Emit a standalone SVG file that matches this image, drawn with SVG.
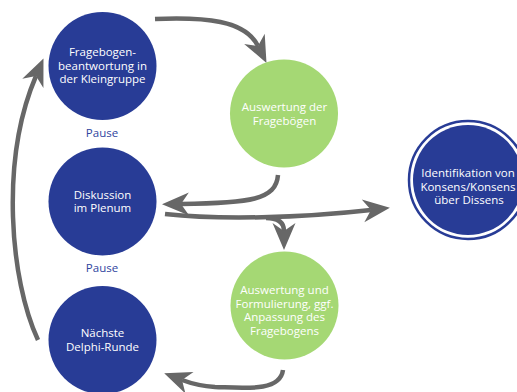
<svg xmlns="http://www.w3.org/2000/svg" width="517" height="392" viewBox="0 0 517 392">
  <style>
    .blue { fill: #283c96; }
    .green { fill: #a5d874; }
    .lbl { font-family: "Open Sans", "Noto Sans", "Liberation Sans", sans-serif; font-size: 11.5px; text-anchor: middle; fill: #ffffff; }
    .pause { font-family: "Open Sans", "Noto Sans", "Liberation Sans", sans-serif; font-size: 11.5px; text-anchor: middle; fill: #2f44a0; }
    .conn { fill: none; stroke: #676767; stroke-width: 4.5; marker-end: url(#head); }
  </style>
  <defs>
    <marker id="head" markerUnits="userSpaceOnUse" viewBox="-2 -13 32 26" markerWidth="32" markerHeight="26" refX="8" refY="0" orient="auto">
      <path d="M0,-11.5 L27,0 L0,11.5 L8,0 Z" fill="#676767"/>
    </marker>
  </defs>
  <rect width="517" height="392" fill="#ffffff"/>

  <g id="connectors">
    <path class="conn" d="M155,19 C205,17 245,20 258,46"/>
    <path class="conn" d="M278,175 C276,200 250,203 181,204"/>
    <path class="conn" d="M165,214 C220,220 300,218 371,210"/>
    <path class="conn" d="M266,218 C278,218 284,222 284,231"/>
    <path class="conn" d="M283,370 C280,392 245,388 215,387 C200,386 190,383 182,380"/>
    <path class="conn" d="M38,340 C10,280 0,160 36,76"/>
  </g>

  <g id="fragebogenbeantwortung">
    <circle class="blue" cx="102.5" cy="66" r="54"/>
    <text class="lbl" x="102.5" y="56">Fragebogen-</text>
    <text class="lbl" x="102.5" y="69.5">beantwortung in</text>
    <text class="lbl" x="102.5" y="83">der Kleingruppe</text>
  </g>

  <g id="pause1">
    <text class="pause" x="102" y="137">Pause</text>
  </g>

  <g id="diskussion">
    <circle class="blue" cx="102.5" cy="201.5" r="54"/>
    <text class="lbl" x="102.5" y="198.5">Diskussion</text>
    <text class="lbl" x="102.5" y="212">im Plenum</text>
  </g>

  <g id="pause2">
    <text class="pause" x="102" y="272">Pause</text>
  </g>

  <g id="naechste-runde">
    <circle class="blue" cx="102.5" cy="340" r="54"/>
    <text class="lbl" x="102.5" y="337">Nächste</text>
    <text class="lbl" x="102.5" y="350.5">Delphi-Runde</text>
  </g>

  <g id="auswertung-frageboegen">
    <circle class="green" cx="284" cy="113.5" r="54"/>
    <text class="lbl" x="284.5" y="111">Auswertung der</text>
    <text class="lbl" x="284.5" y="124.5">Fragebögen</text>
  </g>

  <g id="auswertung-formulierung">
    <circle class="green" cx="284.5" cy="305.5" r="54"/>
    <text class="lbl" x="284.5" y="294">Auswertung und</text>
    <text class="lbl" x="284.5" y="307.5">Formulierung, ggf.</text>
    <text class="lbl" x="284.5" y="321">Anpassung des</text>
    <text class="lbl" x="284.5" y="334.5">Fragebogens</text>
  </g>

  <g id="identifikation">
    <circle cx="468" cy="180" r="59" fill="none" stroke="#283c96" stroke-width="2.5"/>
    <circle class="blue" cx="468" cy="180" r="55"/>
    <text class="lbl" x="468" y="177">Identifikation von</text>
    <text class="lbl" x="468" y="190.5">Konsens/Konsens</text>
    <text class="lbl" x="469" y="204">über Dissens</text>
  </g>
</svg>
